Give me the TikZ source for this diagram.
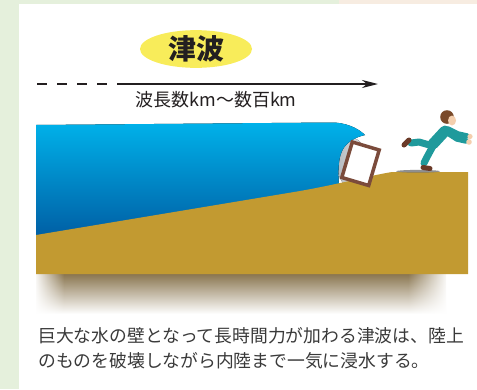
\documentclass[tikz,border=0pt]{standalone}
\usepackage{fontspec}
\setmainfont{Noto Sans CJK JP}
\usetikzlibrary{arrows.meta,shapes.geometric,fadings}
\definecolor{pagegreen}{HTML}{E5F0DC}
\definecolor{pagebeige}{HTML}{F7ECE1}
\definecolor{titleyellow}{HTML}{F8EC5A}
\definecolor{landgold}{HTML}{C29A31}
\definecolor{seatop}{HTML}{00B2EA}
\definecolor{seamid}{HTML}{0078C0}
\definecolor{seabottom}{HTML}{005CA2}
\definecolor{sprayg}{HTML}{B5BABF}
\definecolor{doorbrown}{HTML}{7B4B3B}
\definecolor{suit}{HTML}{1F9A9C}
\definecolor{hair}{HTML}{7A4A2A}
\definecolor{skin}{HTML}{F4CFAE}
\definecolor{shoe}{HTML}{6A3A28}
\definecolor{groundshadow}{HTML}{8A7650}
\definecolor{inkc}{HTML}{231F20}
\definecolor{captionc}{HTML}{3A3A3A}
\begin{document}
\begin{tikzpicture}[x=1pt,y=-1pt,
  titleoval/.style={ellipse,fill=titleyellow,minimum width=112pt,minimum height=30pt,inner sep=0pt,
    text=inkc,font=\fontsize{28}{30}\selectfont\bfseries},
  spanlabel/.style={text=inkc,inner sep=0pt,font=\fontsize{18}{20}\selectfont},
  arrowline/.style={draw=inkc,line width=1.8pt},
  captionline/.style={anchor=base west,inner sep=0pt,text=captionc,font=\fontsize{17.8}{25}\selectfont},
  limb/.style={draw=suit,line width=7pt,line cap=round,line join=round},
  shoestroke/.style={draw=shoe,line width=5pt,line cap=round}]
\useasboundingbox (0,0) rectangle (477,389);
% page background
\fill[white] (0,0) rectangle (477,389);
\fill[pagegreen] (0,0) rectangle (19,389);
\fill[pagegreen] (0,0) rectangle (339,4);
\fill[pagebeige] (339,0) rectangle (477,4);

% soft shadow below the ground block
\fill[top color=groundshadow,bottom color=white] (36,274) rectangle (446,314);
\fill[white,path fading=east] (34,272) rectangle (64,316);
\fill[white,path fading=west] (408,272) rectangle (448,316);

% spray inside the curl
\fill[left color=sprayg,right color=sprayg!35] (352,163) ellipse [x radius=15, y radius=25];

% water body
\fill[top color=seatop,middle color=seamid,bottom color=seabottom]
  (36,125) -- (330,122.5) .. controls (345,122) and (358,128) .. (365,135)
  .. controls (356,137) and (346,142) .. (342,151)
  .. controls (338,160) and (338,172) .. (339,186)
  -- (339,240) -- (36,240) -- cycle;

% ground
\fill[landgold] (36,235) -- (300,191) .. controls (340,184) and (370,175.5) .. (392,172)
  -- (468,172) -- (468,274) -- (36,274) -- cycle;

% door swept along by the wave
\filldraw[fill=white,draw=doorbrown,line width=3.5pt,line join=miter]
  (352.3,142.0) -- (379.2,150.0) -- (368.7,185.5) -- (341.8,177.5) -- cycle;

% running man
\fill[black!55,opacity=0.8] (418,171.3) ellipse [x radius=22, y radius=1.4];
\draw[limb] (433,146) -- (419,142) -- (411,143);
\draw[shoestroke] (404,145) -- (409,140);
\draw[limb] (433,146) -- (427,157) -- (424,163);
\draw[shoestroke] (423,167.5) -- (430,168.5);
\draw[draw=suit,line width=11pt,line cap=round] (433,144) -- (445,131);
\draw[limb,line width=5.5pt] (448,129) -- (458,134) -- (467,136);
\draw[limb,line width=5.5pt] (446,132) -- (457,139) -- (466,141);
\fill[skin] (470,136.5) circle (2.6);
\fill[skin] (469,142) circle (2.8);
\fill[hair] (447,117) circle (6.8);
\fill[skin] (452,120.5) ellipse [x radius=4, y radius=5];

% title and wavelength arrow
\node[titleoval] (title) at (196,49) {津波};
\coordinate (dashfrom) at (37,84);
\coordinate (solidfrom) at (117,84);
\coordinate (tip) at (378,84);
\draw[arrowline,dash pattern=on 10pt off 10pt] (dashfrom) -- (solidfrom);
\draw[arrowline,-{Stealth[length=16pt,width=8pt,inset=5pt]}] (solidfrom) -- (tip);
\node[spanlabel] (span) at (216,100) {波長数km〜数百km};

% caption
\node[captionline] (cap1) at (38,342) {巨大な水の壁となって長時間力が加わる津波は、陸上};
\node[captionline] (cap2) at (38,367) {のものを破壊しながら内陸まで一気に浸水する。};
\end{tikzpicture}
\end{document}
